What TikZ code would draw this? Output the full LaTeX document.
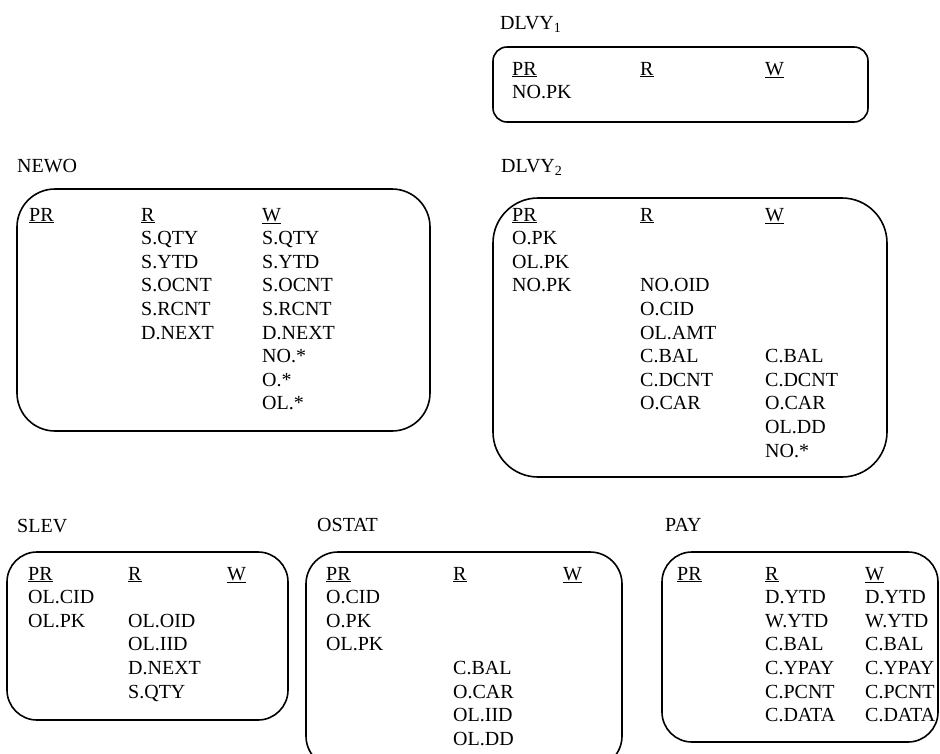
\documentclass[tikz,border=0pt]{standalone}
\usepackage{fontspec}
\setmainfont{Liberation Serif}
\begin{document}
\begin{tikzpicture}[x=1pt,y=-1pt]
\tikzset{
  cell/.style={anchor=base west, inner sep=0pt, font=\fontsize{20}{23.6}\selectfont},
  tbox/.style={draw, line width=1.6pt, rounded corners=#1},
}
\def\ls{23.6}
\newcommand\mkcol[4]{%
  \foreach \t [count=\i] in {#4} {\node[cell] (#1\i) at (#2, {#3+(\i-1)*\ls}) {\t};}}
\newcommand\mkhead[5]{%
  \node[cell] (#1PR) at (#2,#5) {\underline{PR}};
  \node[cell] (#1R) at (#3,#5) {\underline{R}};
  \node[cell] (#1W) at (#4,#5) {\underline{W}};}
\useasboundingbox (0,0) rectangle (940,753);
\clip (0,0) rectangle (940,753);

% DLVY1
\node[cell] (dlvyonelab) at (500,29) {DLVY\textsubscript{1}};
\draw[tbox=14] (493,47) rectangle (868,122);
\mkhead{da}{512}{640}{765}{75}
\mkcol{daP}{512}{98.6}{NO.PK}

% NEWO
\node[cell] (newolab) at (17,172) {NEWO};
\draw[tbox=38] (17,189) rectangle (430,431);
\mkhead{nw}{29}{141}{262}{221}
\mkcol{nwR}{141}{244.6}{S.QTY,S.YTD,S.OCNT,S.RCNT,D.NEXT}
\mkcol{nwW}{262}{244.6}{S.QTY,S.YTD,S.OCNT,S.RCNT,D.NEXT,NO.*,O.*,OL.*}

% DLVY2
\node[cell] (dlvytwolab) at (501,172) {DLVY\textsubscript{2}};
\draw[tbox=45] (493,198) rectangle (887,477);
\mkhead{db}{512}{640}{765}{221}
\mkcol{dbP}{512}{244.6}{O.PK,OL.PK,NO.PK}
\mkcol{dbR}{640}{291.8}{NO.OID,O.CID,OL.AMT,C.BAL,C.DCNT,O.CAR}
\mkcol{dbW}{765}{362.6}{C.BAL,C.DCNT,O.CAR,OL.DD,NO.*}

% SLEV
\node[cell] (slevlab) at (17,532) {SLEV};
\draw[tbox=30] (7,552) rectangle (288,720);
\mkhead{sl}{28}{128}{227}{580}
\mkcol{slP}{28}{603.6}{OL.CID,OL.PK}
\mkcol{slR}{128}{627.2}{OL.OID,OL.IID,D.NEXT,S.QTY}

% OSTAT
\node[cell] (ostatlab) at (317,531) {OSTAT};
\draw[tbox=32] (306,552) rectangle (622,768);
\mkhead{os}{326}{453}{563}{580}
\mkcol{osP}{326}{603.6}{O.CID,O.PK,OL.PK}
\mkcol{osR}{453}{674.4}{C.BAL,O.CAR,OL.IID,OL.DD}

% PAY
\node[cell] (paylab) at (665,531) {PAY};
\draw[tbox=30] (662,552) rectangle (938,742);
\mkhead{py}{677}{765}{865}{580}
\mkcol{pyR}{765}{603.6}{D.YTD,W.YTD,C.BAL,C.YPAY,C.PCNT,C.DATA}
\mkcol{pyW}{865}{603.6}{D.YTD,W.YTD,C.BAL,C.YPAY,C.PCNT,C.DATA}
\end{tikzpicture}
\end{document}
